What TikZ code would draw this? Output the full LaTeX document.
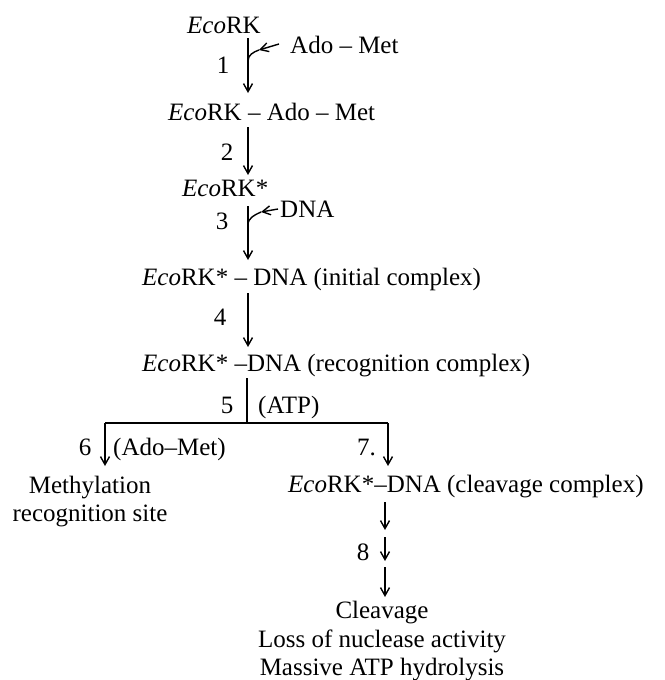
\documentclass[tikz,border=0pt]{standalone}
\usepackage{fontspec}
\setmainfont{Liberation Serif}
\usetikzlibrary{arrows.meta}
\begin{document}
\begin{tikzpicture}[x=1pt,y=-1pt,
  txt/.style={inner sep=0pt, font=\fontsize{25}{28}\selectfont, anchor=base west},
  ctr/.style={inner sep=0pt, font=\fontsize{25}{28}\selectfont, anchor=base},
  arr/.style={line width=1.4pt, -{Straight Barb[length=8pt,width=9pt]}},
  ln/.style={line width=1.4pt}]
\useasboundingbox (0,0) rectangle (664,680);
% main chain
\node[txt] (n1) at (187,33) {\textit{Eco}RK};
\node[txt] (n2) at (168,120) {\textit{Eco}RK -- Ado -- Met};
\node[txt] (n3) at (182,196) {\textit{Eco}RK*};
\node[txt] (n4) at (142,285) {\textit{Eco}RK* -- DNA (initial complex)};
\node[txt] (n5) at (142,371) {\textit{Eco}RK* --DNA (recognition complex)};
\node[ctr] (m1) at (90,493) {Methylation};
\node[ctr] (m1b) at (90,521) {recognition site};
\node[txt] (m2) at (288,492) {\textit{Eco}RK*--DNA (cleavage complex)};
\node[ctr] (f1) at (382,618) {Cleavage};
\node[ctr] (f2) at (382,647) {Loss of nuclease activity};
\node[ctr] (f3) at (382,675) {Massive ATP hydrolysis};
% side reagents
\node[txt] (s1) at (290,53) {Ado -- Met};
\node[txt] (s2) at (280,217) {DNA};
% step labels
\node[ctr] (l1) at (223,73) {1};
\node[ctr] (l2) at (227,160) {2};
\node[ctr] (l3) at (222,229) {3};
\node[ctr] (l4) at (220,325) {4};
\node[ctr] (l5) at (227,413) {5};
\node[txt] (a5) at (258,413) {(ATP)};
\node[ctr] (l6) at (85,455) {6};
\node[txt] (a6) at (113,455) {(Ado--Met)};
\node[txt] (l7) at (357,455) {7.};
\node[ctr] (l8) at (363,560) {8};
% coordinates
\coordinate (t1) at (248,38);
\coordinate (b1) at (248,93);
\coordinate (j1) at (248,61);
\coordinate (h1) at (259,50);
\coordinate (t2) at (248,127);
\coordinate (b2) at (248,175);
\coordinate (t3) at (248,206);
\coordinate (b3) at (248,260);
\coordinate (j3) at (248,225);
\coordinate (h3) at (261,212);
\coordinate (t4) at (248,293);
\coordinate (b4) at (248,347);
\coordinate (t5) at (247,378);
\coordinate (c5) at (247,423);
\coordinate (cl) at (105,423);
\coordinate (cr) at (388,423);
\coordinate (b6) at (105,466);
\coordinate (b7) at (388,466);
\coordinate (e1) at (385,502);
\coordinate (g1) at (385,530);
\coordinate (e2) at (385,537);
\coordinate (g2) at (385,561);
\coordinate (e3) at (385,567);
\coordinate (g3) at (385,597);
% arrows
\draw[arr] (t1) -- (b1);
\draw[arr] (279,44) -- (h1);
\draw[ln] (h1) to[out=200,in=90] (j1);
\draw[arr] (t2) -- (b2);
\draw[arr] (t3) -- (b3);
\draw[arr] (278,209) -- (h3);
\draw[ln] (h3) to[out=205,in=90] (j3);
\draw[arr] (t4) -- (b4);
\draw[ln] (t5) -- (c5);
\draw[ln] (cl) -- (cr);
\draw[arr] (cl) -- (b6);
\draw[arr] (cr) -- (b7);
\draw[arr] (e1) -- (g1);
\draw[arr] (e2) -- (g2);
\draw[arr] (e3) -- (g3);
\end{tikzpicture}
\end{document}
